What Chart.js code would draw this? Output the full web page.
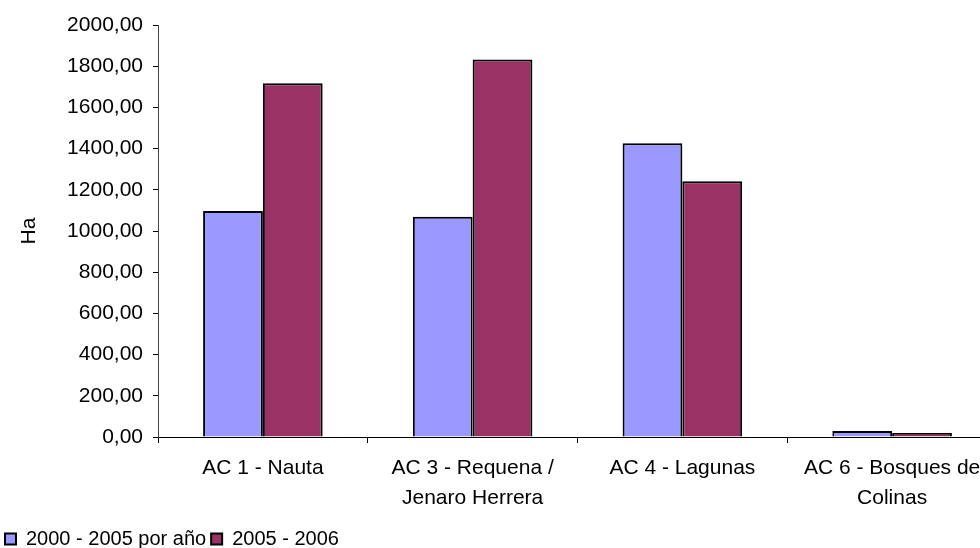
<!DOCTYPE html>
<html>
<head>
<meta charset="utf-8">
<script src="https://cdn.jsdelivr.net/npm/chart.js@4/dist/chart.umd.min.js"></script>
<style>
html,body{margin:0;padding:0;background:#fff;overflow:hidden;width:980px;height:548px;}
canvas{display:block;}
</style>
</head>
<body>
<canvas id="c" width="1000" height="548"></canvas>
<script>
const categories = [
  'AC 1 - Nauta',
  ['AC 3 - Requena /', 'Jenaro Herrera'],
  'AC 4 - Lagunas',
  ['AC 6 - Bosques de', 'Colinas']
];
const seriesNames = ['2000 - 2005 por año', '2005 - 2006'];
const series2000_2005 = [1097, 1069, 1426, 29];
const series2005_2006 = [1717, 1833, 1241, 19];
const yTickLabels = ['0,00','200,00','400,00','600,00','800,00','1000,00','1200,00','1400,00','1600,00','1800,00','2000,00'];

const FONT = 'Liberation Sans, Arial, sans-serif';
const PAD_BOTTOM = -11;

new Chart(document.getElementById('c'), {
  type: 'bar',
  data: {
    labels: categories,
    datasets: [
      { label: seriesNames[0], data: series2000_2005, backgroundColor: '#9999FF', borderColor: '#000', borderWidth: 2 },
      { label: seriesNames[1], data: series2005_2006, backgroundColor: '#993366', borderColor: '#000', borderWidth: 2 }
    ]
  },
  options: {
    responsive: false,
    devicePixelRatio: 1,
    animation: false,
    layout: { autoPadding: false, padding: { top: 25, right: 3, left: 0, bottom: PAD_BOTTOM } },
    datasets: { bar: { categoryPercentage: 0.57, barPercentage: 1.0 } },
    plugins: {
      tooltip: { enabled: false },
      legend: {
        position: 'bottom',
        align: 'start',
        labels: { color: '#000', font: { family: FONT, size: 20 }, boxWidth: 11, boxHeight: 11, padding: 5 }
      }
    },
    scales: {
      x: {
        grid: { display: true, drawOnChartArea: false, drawTicks: true, tickLength: 6, color: '#000', offset: true },
        border: { display: true, color: '#000', width: 1 },
        ticks: { color: '#000', font: { family: FONT, size: 21, lineHeight: 1.43 }, padding: 10, maxRotation: 0, autoSkip: false },
        afterFit: (s) => { const lh = s.chart.legend ? s.chart.legend.height : 30; s.height = 111 - lh - PAD_BOTTOM; }
      },
      y: {
        min: 0, max: 2000,
        ticks: { stepSize: 200, color: '#000', font: { family: FONT, size: 21 }, padding: 10,
          callback: (v, i) => yTickLabels[i] },
        grid: { display: true, drawOnChartArea: false, drawTicks: true, tickLength: 5, color: '#000' },
        border: { display: true, color: '#444', width: 1 },
        title: { display: true, text: 'Ha', color: '#000', font: { family: FONT, size: 21 }, padding: { top: 17, bottom: 0 } },
        afterFit: (s) => { s.width = 158; }
      }
    }
  }
});
</script>
</body>
</html>
